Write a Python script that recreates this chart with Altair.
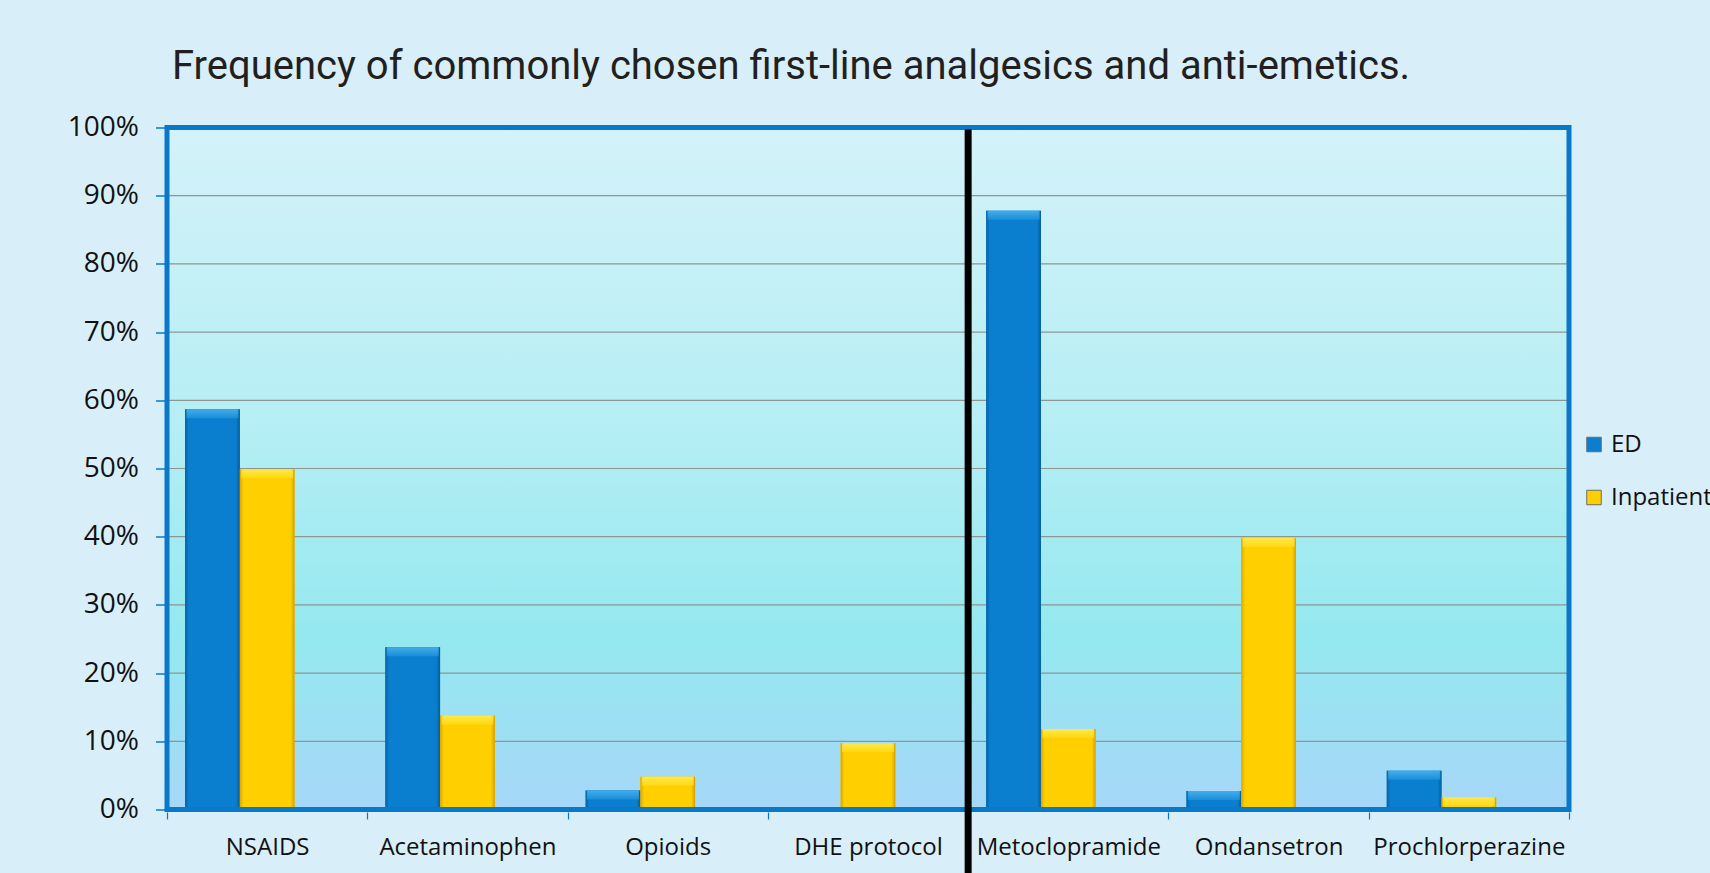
import altair as alt
import pandas as pd

# Share of respondents choosing each drug as first-line treatment
categories = ["NSAIDS", "Acetaminophen", "Opioids", "DHE protocol",
              "Metoclopramide", "Ondansetron", "Prochlorperazine"]
series = ["ED", "Inpatient"]
ed_share = [0.587, 0.238, 0.028, 0.0, 0.878, 0.027, 0.057]
inpatient_share = [0.499, 0.138, 0.048, 0.097, 0.118, 0.398, 0.018]
y_ticks = [0.0, 0.1, 0.2, 0.3, 0.4, 0.5, 0.6, 0.7, 0.8, 0.9, 1.0]
grid_ticks = [0.1, 0.2, 0.3, 0.4, 0.5, 0.6, 0.7, 0.8, 0.9]
# analgesics on the left, anti-emetics from this category onward
group_split = "Metoclopramide"
title_text = "Frequency of commonly chosen first-line analgesics and anti-emetics."

W, H = 1402, 682
BORDER = "#0a78c8"
BLUE, YELLOW = "#0a7fcf", "#ffcf00"

rows = []
for cat, e, i in zip(categories, ed_share, inpatient_share):
    rows.append({"cat": cat, "series": "ED", "v": e})
    rows.append({"cat": cat, "series": "Inpatient", "v": i})
df = pd.DataFrame(rows)

x_scale = alt.Scale(domain=categories, paddingInner=0, paddingOuter=0)
# third, empty slot keeps each pair left of the category centre
off_scale = alt.Scale(domain=series + [""], paddingInner=0, paddingOuter=0.33)
y_scale = alt.Scale(domain=[0, 1], nice=False)

x_axis = alt.Axis(
    title=None, labelAngle=0, domain=False, grid=False, tickBand="extent",
    tickColor=BORDER, tickSize=7, tickWidth=1.2, offset=2.5,
    labelFont="Open Sans", labelFontSize=24, labelColor="#111111",
    labelPadding=16, labelLimit=0,
)
y_axis = alt.Axis(
    title=None, values=y_ticks, format=".0%", domain=False, grid=False,
    tickColor=BORDER, tickSize=9, tickWidth=1.5, offset=2.5,
    labelFont="Open Sans", labelFontSize=28, labelColor="#111111",
    labelPadding=17,
)

X = alt.X("cat:N", scale=x_scale, axis=x_axis, sort=categories)
XO = alt.XOffset("series:N", scale=off_scale)
Y = alt.Y("v:Q", scale=y_scale, axis=y_axis)

plot_bg = alt.Chart(alt.Data(values=[{"k": 1}])).mark_rect(
    color=alt.Gradient(
        gradient="linear", x1=0, y1=0, x2=0, y2=1,
        stops=[
            alt.GradientStop(color="#d4f2f9", offset=0),
            alt.GradientStop(color="#b4eef4", offset=0.45),
            alt.GradientStop(color="#94e8ef", offset=0.75),
            alt.GradientStop(color="#a6d7f8", offset=1),
        ],
    )
).encode(x=alt.value(0), x2=alt.value(W), y=alt.value(0), y2=alt.value(H))

grid = alt.Chart(pd.DataFrame({"v": grid_ticks})).mark_rule(
    color="#8e9694", strokeWidth=1.2
).encode(y=alt.Y("v:Q", scale=y_scale, axis=y_axis))

bars = alt.Chart(df).mark_bar().encode(
    x=X, xOffset=XO, y=Y,
    color=alt.Color(
        "series:N",
        scale=alt.Scale(domain=series, range=[BLUE, YELLOW]),
        legend=alt.Legend(
            title=None, orient="none", legendX=1415, legendY=305, padding=0,
            symbolType="square", symbolSize=210, symbolStrokeWidth=1,
            symbolStrokeColor="#6b6b6b",
            labelFont="Open Sans", labelFontSize=24, labelColor="#111111",
            labelOffset=5, rowPadding=29, labelLimit=0,
        ),
    ),
)


def shaded(name, edge, body, far_edge):
    return alt.Chart(df).transform_filter(
        (alt.datum.series == name) & (alt.datum.v > 0)
    ).mark_bar(
        color=alt.Gradient(
            gradient="linear", x1=0, y1=0, x2=1, y2=0,
            stops=[
                alt.GradientStop(color=edge, offset=0),
                alt.GradientStop(color=body, offset=0.07),
                alt.GradientStop(color=body, offset=0.93),
                alt.GradientStop(color=far_edge, offset=1),
            ],
        )
    ).encode(x=X, xOffset=XO, y=Y)


def bevel(name, light, dark):
    return alt.Chart(df).transform_filter(
        (alt.datum.series == name) & (alt.datum.v > 0)
    ).mark_tick(
        thickness=9, size=52, yOffset=4.5,
        color=alt.Gradient(
            gradient="linear", x1=0, y1=0, x2=0, y2=1,
            stops=[
                alt.GradientStop(color=light, offset=0),
                alt.GradientStop(color=dark, offset=1),
            ],
        ),
    ).encode(x=X, xOffset=XO, y=Y)


border = alt.Chart(alt.Data(values=[{"k": 1}])).mark_rect(
    filled=False, stroke=BORDER, strokeWidth=5
).encode(x=alt.value(0), x2=alt.value(W), y=alt.value(0), y2=alt.value(H))

split = alt.Chart(pd.DataFrame({"cat": [group_split]})).mark_rule(
    color="#000000", strokeWidth=7
).encode(
    x=alt.X("cat:N", scale=x_scale, axis=x_axis, sort=categories, bandPosition=0),
    y=alt.value(2), y2=alt.value(873 - 127.5),
)

# chart heading, set above the framed plot area
heading = alt.Chart(pd.DataFrame({"t": [title_text]})).mark_text(
    align="left", baseline="alphabetic", font="Roboto", fontSize=40,
    fontWeight="normal", color="#231f20",
).encode(x=alt.value(5), y=alt.value(-49), text="t:N")

chart = alt.layer(
    plot_bg, grid, bars,
    shaded("ED", "#0563a6", BLUE, "#045c9a"),
    shaded("Inpatient", "#dba700", YELLOW, "#d49e00"),
    bevel("ED", "#5cc0f7", "#2196de"),
    bevel("Inpatient", "#fff36a", "#ffdc1a"),
    border, split, heading,
).properties(
    width=W, height=H,
    autosize=alt.AutoSizeParams(type="none"),
    padding={"left": 167, "top": 127.5, "right": 141, "bottom": 63.5},
).configure(
    background="#d8eff9",
).configure_view(
    stroke=None,
)

chart.save("out.html", embed_options={"renderer": "svg", "actions": False})
